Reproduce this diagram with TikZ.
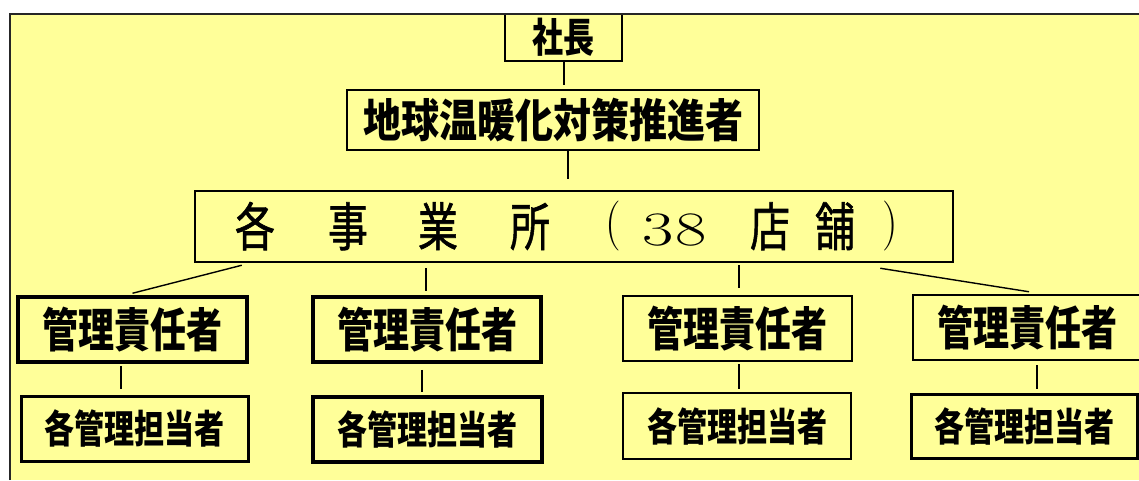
\documentclass[tikz,border=0pt]{standalone}
\usepackage{fontspec}
\usepackage{graphicx}
\newfontfamily\jp{Noto Sans CJK JP}
\newfontfamily\jpm{Noto Sans CJK JP}[FakeBold=1.2]
\usetikzlibrary{calc}
\definecolor{bgyellow}{HTML}{FFFF99}
\newcommand\jtext[3]{\scalebox{1}[#2]{\fontsize{#1}{#1}\selectfont\jp\bfseries #3}}
\newcommand\placech[2]{\makebox[0pt][l]{\hspace*{#1pt}\makebox[0pt]{#2}}}
\newcommand\cj[1]{\scalebox{1}[1.3]{\jpm #1}}
\begin{document}
\begin{tikzpicture}[x=1pt,y=-1pt,
  orgbox/.style={draw=black,fill=bgyellow,inner sep=0pt,anchor=center},
  conn/.style={draw=black,line width=1.4pt}]
\useasboundingbox (0,0) rectangle (1139,480);
\fill[white] (0,0) rectangle (1139,480);
\fill[bgyellow] (9.5,13.5) rectangle (1139,480);
% top
\node[orgbox,line width=1.3pt,minimum width=117pt,minimum height=47pt] (shacho) at (563.5,37.5) {\jtext{31}{1.3}{社長}};
\node[orgbox,line width=2pt,minimum width=412pt,minimum height=60pt] (chikyu) at (553,120) {\jtext{38}{1.2}{地球温暖化対策推進者}};
\node[orgbox,line width=2.5pt,minimum width=758pt,minimum height=71pt] (jig) at (574,226.5)
 {\makebox[758pt][l]{\fontsize{40}{40}\selectfont
   \placech{60}{\cj{各}}\placech{153}{\cj{事}}\placech{243}{\cj{業}}\placech{335}{\cj{所}}%
   \placech{418.5}{\raisebox{7pt}{\scalebox{1.1}[1.25]{(}}}%
   \placech{463.5}{\scalebox{1.7}[1.2]{3}}\placech{496.5}{\scalebox{1.7}[1.2]{8}}%
   \placech{575}{\cj{店}}\placech{640}{\cj{舗}}%
   \placech{695}{\raisebox{7pt}{\scalebox{1.1}[1.25]{)}}}}};
% managers
\node[orgbox,line width=3.5pt,minimum width=229pt,minimum height=65pt] (m1) at (132.5,329.5) {\jtext{36}{1.3}{管理責任者}};
\node[orgbox,line width=3.5pt,minimum width=228pt,minimum height=65pt] (m2) at (427,329.5) {\jtext{36}{1.3}{管理責任者}};
\node[orgbox,line width=2pt,minimum width=229pt,minimum height=65pt] (m3) at (737.5,328.5) {\jtext{36}{1.3}{管理責任者}};
\node[orgbox,line width=2.5pt,minimum width=229pt,minimum height=65pt] (m4) at (1027.5,327.5) {\jtext{36}{1.3}{管理責任者}};
% staff
\node[orgbox,line width=3pt,minimum width=227pt,minimum height=65pt] (t1) at (134.5,428.5) {\jtext{30}{1.3}{各管理担当者}};
\node[orgbox,line width=3.5pt,minimum width=229pt,minimum height=65pt] (t2) at (427.5,429.5) {\jtext{30}{1.3}{各管理担当者}};
\node[orgbox,line width=2.5pt,minimum width=228pt,minimum height=66pt] (t3) at (737,426) {\jtext{30}{1.3}{各管理担当者}};
\node[orgbox,line width=3pt,minimum width=226pt,minimum height=64pt] (t4) at (1024,426) {\jtext{30}{1.3}{各管理担当者}};
% connectors
\draw[conn] ($(shacho.south)+(0.5,0)$) -- ($(chikyu.north)+(11,-4)$);
\draw[conn] ($(chikyu.south)+(15,0)$) -- ($(chikyu.south)+(15,28)$);
\draw[conn] ($(jig.south west)+(48,2)$) -- ($(m1.north)+(0,-2)$);
\draw[conn] ($(m2.north |- jig.south)+(-1,5)$) -- ($(m2.north)+(-1,-4)$);
\draw[conn] ($(m3.north |- jig.south)+(1.5,2)$) -- ($(m3.north)+(1.5,-7)$);
\draw[conn] ($(jig.south east)+(-74,5)$) -- ($(m4.north)+(1.5,-2)$);
\draw[conn] ($(m1.south)+(-11.5,2)$) -- ($(t1.north)+(-13.5,-6)$);
\draw[conn] ($(m2.south)+(-5,6)$) -- ($(t2.north)+(-5.5,-3)$);
\draw[conn] ($(m3.south)+(1.5,2)$) -- ($(t3.north)+(2,-3)$);
\draw[conn] ($(m4.south)+(9.5,4)$) -- ($(t4.north)+(13,-4)$);
% frame
\draw[line width=2pt,color=black!85] (9.5,480) -- (9.5,13.5) -- (1139,13.5);
\end{tikzpicture}
\end{document}
